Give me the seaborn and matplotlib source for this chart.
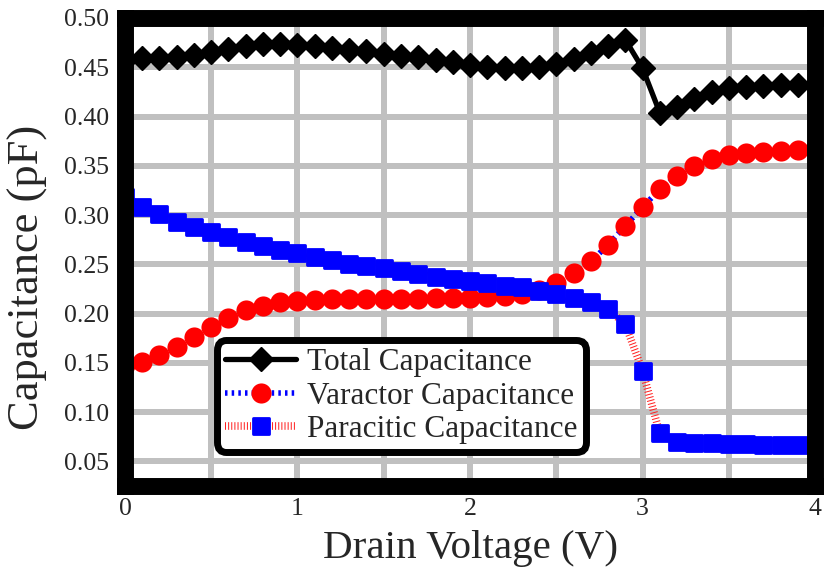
import numpy as np
import pandas as pd
import seaborn as sns
import matplotlib.pyplot as plt
from matplotlib.markers import MarkerStyle
from matplotlib.ticker import MultipleLocator, FormatStrFormatter

drain_voltage = [0.0, 0.1, 0.2, 0.3, 0.4, 0.5, 0.6, 0.7, 0.8, 0.9,
                 1.0, 1.1, 1.2, 1.3, 1.4, 1.5, 1.6, 1.7, 1.8, 1.9,
                 2.0, 2.1, 2.2, 2.3, 2.4, 2.5, 2.6, 2.7, 2.8, 2.9,
                 3.0, 3.1, 3.2, 3.3, 3.4, 3.5, 3.6, 3.7, 3.8, 3.9, 4.0]

total_cap = [0.457, 0.459, 0.459, 0.460, 0.462, 0.465, 0.469, 0.472, 0.474, 0.474,
             0.473, 0.472, 0.470, 0.468, 0.466, 0.463, 0.461, 0.460, 0.457, 0.455,
             0.452, 0.450, 0.449, 0.449, 0.450, 0.453, 0.458, 0.464, 0.472, 0.478,
             0.449, 0.404, 0.410, 0.418, 0.425, 0.429, 0.430, 0.431, 0.432, 0.432,
             0.432]

varactor_cap = [0.1475, 0.1506, 0.158, 0.166, 0.176, 0.186, 0.196, 0.204, 0.208, 0.212,
                0.213, 0.214, 0.2145, 0.215, 0.215, 0.215, 0.215, 0.2152, 0.2155, 0.2157,
                0.216, 0.2165, 0.2175, 0.2195, 0.2235, 0.231, 0.241, 0.253, 0.2695, 0.289,
                0.308, 0.326, 0.3396, 0.350, 0.3565, 0.361, 0.3626, 0.3643, 0.3653, 0.366,
                0.3667]

paracitic_cap = [0.318, 0.3085, 0.3007, 0.2932, 0.2875, 0.2824, 0.2773, 0.2722, 0.2684, 0.2644,
                 0.261, 0.2576, 0.2542, 0.2508, 0.2485, 0.2467, 0.2433, 0.240, 0.2373, 0.235,
                 0.2326, 0.2306, 0.2283, 0.2266, 0.2233, 0.2200, 0.2157, 0.2118, 0.2043, 0.1893,
                 0.142, 0.0784, 0.0699, 0.0688, 0.0685, 0.068, 0.0677, 0.067, 0.0668, 0.0665,
                 0.0662]

y_ticks = [0.05, 0.10, 0.15, 0.20, 0.25, 0.30, 0.35, 0.40, 0.45, 0.50]
x_ticks = [0, 1, 2, 3, 4]

df = pd.DataFrame({
    "V": drain_voltage,
    "total": total_cap,
    "varactor": varactor_cap,
    "paracitic": paracitic_cap,
})

sns.set_style("white")
plt.rcParams["font.family"] = ["Liberation Serif", "DejaVu Serif"]

fig = plt.figure(figsize=(8.25, 5.69), dpi=100)
ax = fig.add_axes([0.1515, 0.1459, 0.8364, 0.8225])

sns.lineplot(data=df, x="V", y="total", ax=ax, errorbar=None,
             color="black", lw=3.8, marker="D", markersize=12,
             markerfacecolor="black", markeredgecolor="black", markeredgewidth=1,
             label="Total Capacitance")
sns.lineplot(data=df, x="V", y="varactor", ax=ax, errorbar=None,
             color="#0000ff", lw=4, linestyle=(0, (0.45, 0.75)),
             dash_capstyle="butt",
             marker="o", markersize=14.5,
             markerfacecolor="#ff0000", markeredgecolor="#ff0000", markeredgewidth=0,
             label="Varactor Capacitance")
sns.lineplot(data=df, x="V", y="paracitic", ax=ax, errorbar=None,
             color="#ff2020", lw=5.5, linestyle=(0, (0.13, 0.28)),
             dash_capstyle="butt",
             marker=MarkerStyle("s", joinstyle="round"), markersize=11,
             markerfacecolor="#0000ff", markeredgecolor="#0000ff", markeredgewidth=2,
             label="Paracitic Capacitance")

ax.set_xlim(0, 4)
ax.set_ylim(0.025, 0.50)
ax.set_xticks(x_ticks)
ax.xaxis.set_minor_locator(MultipleLocator(0.5))
ax.set_yticks(y_ticks)
ax.yaxis.set_major_formatter(FormatStrFormatter("%.2f"))

ax.grid(True, which="both", color="#c0c0c0", lw=4.3)
ax.set_axisbelow(True)
for s in ax.spines.values():
    s.set_visible(True)
    s.set_color("black")
    s.set_linewidth(12.2)

ax.tick_params(axis="both", which="major", direction="out", length=7.5, width=1.5,
               color="black", labelsize=18.5, pad=4)
ax.tick_params(axis="x", which="major", pad=1.5)
ax.tick_params(axis="both", which="minor", length=0)

ax.set_xlabel("Drain Voltage (V)", fontsize=29.5)
ax.set_ylabel("Capacitance (pF)", fontsize=32)
ax.xaxis.set_label_coords(0.5, -0.095)
ax.yaxis.set_label_coords(-0.112, 0.445)

leg = ax.legend(loc="lower left", bbox_to_anchor=(0.133, 0.073), borderaxespad=0,
                fontsize=22.5, frameon=True, fancybox=True, handlelength=2.3,
                handletextpad=0.35, labelspacing=0.14, borderpad=0.25, framealpha=1)
leg.get_frame().set_edgecolor("black")
leg.get_frame().set_linewidth(5)
leg.get_frame().set_boxstyle("round", pad=0, rounding_size=0.3)

fig.savefig("out.png", dpi=100)
